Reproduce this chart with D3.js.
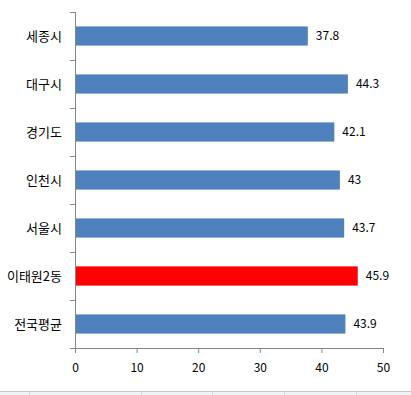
<!DOCTYPE html>
<html>
<head>
<meta charset="utf-8">
<script src="https://cdn.jsdelivr.net/npm/d3@7"></script>
<style>
  body { margin: 0; background: #fff; }
  text { font-family: "Noto Sans CJK KR", "Noto Sans", sans-serif; fill: #000; }
</style>
</head>
<body>
<script>
var categories = ['세종시', '대구시', '경기도', '인천시', '서울시', '이태원2동', '전국평균'];
var values = [37.8, 44.3, 42.1, 43, 43.7, 45.9, 43.9];
var highlight = '이태원2동';
var xTicks = [0, 10, 20, 30, 40, 50];

var width = 411, height = 395;
var plotLeft = 75, plotRight = 383, plotTop = 12, plotBottom = 348;

var svg = d3.select('body').append('svg')
  .attr('width', width)
  .attr('height', height);

var x = d3.scaleLinear().domain([0, 50]).range([plotLeft, plotRight]);
var y = d3.scaleBand().domain(categories).range([plotTop, plotBottom]).paddingInner(0.6).paddingOuter(0.3);
var yEdge = d3.scaleLinear().domain([0, categories.length]).range([plotTop, plotBottom]);

// bars
svg.selectAll('rect.bar')
  .data(categories)
  .enter().append('rect')
  .attr('class', 'bar')
  .attr('x', x(0))
  .attr('y', function(d) { return y(d); })
  .attr('width', function(d, i) { return x(values[i]) - x(0); })
  .attr('height', y.bandwidth())
  .style('fill', function(d) { return d === highlight ? '#ff0000' : '#4f81bd'; });

// value labels
svg.selectAll('text.val')
  .data(categories)
  .enter().append('text')
  .attr('class', 'val')
  .attr('x', function(d, i) { return x(values[i]) + 8; })
  .attr('y', function(d) { return y(d) + y.bandwidth() / 2; })
  .attr('dy', '0.35em')
  .style('font-size', '12px')
  .text(function(d, i) { return values[i]; });

// y axis (ticks between categories)
var yAxis = svg.append('g')
  .attr('transform', 'translate(' + plotLeft + ',0)')
  .call(d3.axisLeft(yEdge).tickValues(d3.range(categories.length + 1)).tickSize(5).tickFormat(''));

svg.selectAll('text.cat')
  .data(categories)
  .enter().append('text')
  .attr('class', 'cat')
  .attr('x', 62)
  .attr('y', function(d) { return y(d) + y.bandwidth() / 2; })
  .attr('dy', '0.35em')
  .attr('text-anchor', 'end')
  .style('font-size', '13px')
  .text(function(d) { return d; });

// x axis
var xAxis = svg.append('g')
  .attr('transform', 'translate(0,' + plotBottom + ')')
  .call(d3.axisBottom(x).tickValues(xTicks).tickSize(5).tickPadding(10));
xAxis.selectAll('text').style('font-size', '12px').style('fill', '#000');

svg.selectAll('.domain, .tick line').attr('stroke', '#868686');
yAxis.select('.domain').attr('d', 'M0.5,' + plotTop + 'V' + plotBottom);
xAxis.select('.domain').attr('d', 'M' + plotLeft + ',0.5H' + plotRight);

// spreadsheet strip at the bottom
svg.append('rect').attr('x', 0).attr('y', 392).attr('width', width).attr('height', 3).style('fill', '#eef4f6');
svg.append('line').attr('x1', 0).attr('x2', width).attr('y1', 391.5).attr('y2', 391.5).attr('stroke', '#c4c8cc');
[29, 141, 212, 284, 356].forEach(function(px) {
  svg.append('line').attr('x1', px + 0.5).attr('x2', px + 0.5).attr('y1', 392).attr('y2', 395).attr('stroke', '#d6dde2');
});
</script>
</body>
</html>
